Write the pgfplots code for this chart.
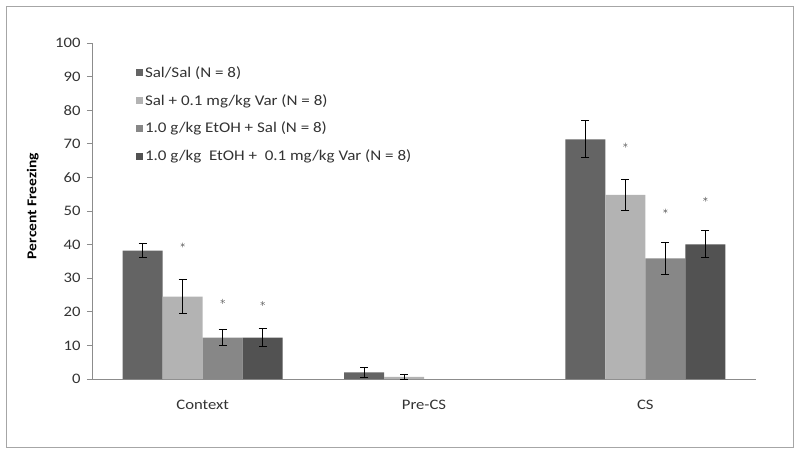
\documentclass[border=0pt]{standalone}
\usepackage{fontspec}
\setmainfont{Carlito}[FakeStretch=1.15]
\usepackage{pgfplots}
\pgfplotsset{compat=1.18}

\definecolor{barA}{HTML}{646464}
\definecolor{barB}{HTML}{B3B3B3}
\definecolor{barC}{HTML}{878787}
\definecolor{barD}{HTML}{525252}
\definecolor{axisgray}{HTML}{8C8C8C}
\definecolor{txt}{HTML}{333333}

\begin{document}
\begin{tikzpicture}
\path (0pt,0pt) rectangle (800pt,-452pt);
\draw[color=black!35, line width=0.8pt] (6pt,-6pt) rectangle (793pt,-447pt);
\begin{axis}[
  at={(92pt,-379pt)}, anchor=south west,
  scale only axis, width=664pt, height=336pt,
  xmin=-0.5, xmax=2.5, ymin=0, ymax=100,
  axis x line*=bottom, axis y line*=left,
  axis line style={axisgray, line width=0.8pt, -},
  every tick/.style={axisgray, line width=0.8pt},
  tick align=outside, major tick length=5pt,
  ytick={0,10,...,100},
  xtick={0,1,2}, xticklabels={Context,Pre-CS,CS},
  major x tick style={draw=none},
  extra x ticks={-0.5,0.5,1.5,2.5}, extra x tick labels={},
  extra x tick style={major tick length=5pt, tick style={axisgray, line width=0.8pt}},
  /pgf/number format/assume math mode=true,
  tick label style={font=\fontsize{14.5}{16}\selectfont, text=txt},
  xticklabel style={yshift=-13pt},
  yticklabel style={xshift=-3pt},
  ylabel={Percent Freezing},
  every axis y label/.style={at={(axis description cs:-0.089,0.515)}, rotate=90, anchor=center,
    font=\bfseries\fontsize{13.5}{15}\selectfont, text=black},
  bar width=0.1807,
  legend cell align=left,
  legend style={draw=none, fill=none, at={(axis description cs:0.066,0.937)}, anchor=north west,
    font=\fontsize{14.8}{16}\selectfont, text=txt, row sep=11.5pt, inner sep=0pt},
  legend image code/.code={\fill[#1, draw=none] (0pt,-3.5pt) rectangle (7pt,3.5pt);},
  error bars/error bar style={black, line width=1pt},
  error bars/error mark options={rotate=90, mark size=4pt, black, line width=1pt},
]
% bars placed at category index + offset (Context=0, Pre-CS=1, CS=2)
\addplot[ybar, bar shift=0pt, fill=barA, draw=none,
  error bars/.cd, y dir=both, y explicit]
  coordinates {(-0.2710,38.2) +- (0,2.1) (0.7290,2.0) +- (0,1.5) (1.7290,71.3) +- (0,5.5)};
\addlegendentry{Sal/Sal (N = 8)}
\addplot[ybar, bar shift=0pt, fill=barB, draw=none,
  error bars/.cd, y dir=both, y explicit]
  coordinates {(-0.0903,24.5) +- (0,5.0) (0.9097,0.6) +- (0,0.8) (1.9097,54.8) +- (0,4.6)};
\addlegendentry{Sal + 0.1 mg/kg Var (N = 8)}
\addplot[ybar, bar shift=0pt, fill=barC, draw=none,
  error bars/.cd, y dir=both, y explicit]
  coordinates {(0.0903,12.3) +- (0,2.3) (2.0903,35.9) +- (0,4.7)};
\addlegendentry{1.0 g/kg EtOH + Sal (N = 8)}
\addplot[ybar, bar shift=0pt, fill=barD, draw=none,
  error bars/.cd, y dir=both, y explicit]
  coordinates {(0.2710,12.3) +- (0,2.6) (2.2710,40.1) +- (0,4.0)};
\addlegendentry{1.0 g/kg\ \ EtOH +\ \ 0.1 mg/kg Var (N = 8)}
\addplot[only marks, mark=asterisk, mark size=2.4pt, color=black!55, forget plot]
  coordinates {(-0.0903,39.9) (0.0903,23.1) (0.2710,22.5)
               (1.9097,69.6) (2.0903,50.0) (2.2710,53.5)};
\end{axis}
\end{tikzpicture}
\end{document}
